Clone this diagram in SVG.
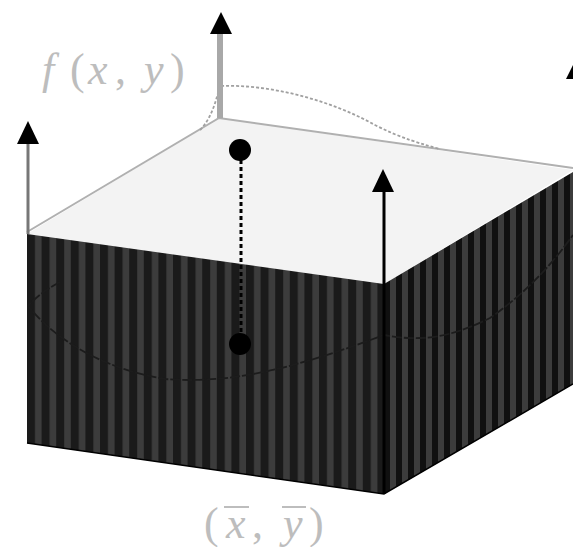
<svg xmlns="http://www.w3.org/2000/svg" width="573" height="547" viewBox="0 0 573 547">
<style>
.lbl{font-family:"Liberation Serif",serif;font-size:44px;fill:#bdbdbd}
.it{font-style:italic}
.curve{fill:none;stroke:#a0a0a0;stroke-width:1.8;stroke-dasharray:3 2}
.under{fill:none;stroke:#1c1c1c;stroke-width:1.8;stroke-dasharray:10 2}
.edge{fill:none;stroke:#b0b0b0;stroke-width:2}
</style>
<defs>
<pattern id="stripes" patternUnits="userSpaceOnUse" x="27" y="0" width="14.6" height="10">
<rect width="14.6" height="10" fill="#1a1a1a"/>
<rect x="8" width="6.6" height="10" fill="#3c3c3c"/>
</pattern>
<pattern id="stripesR" patternUnits="userSpaceOnUse" x="384" y="0" width="12" height="10">
<rect width="12" height="10" fill="#101010"/>
<rect x="6" width="6" height="10" fill="#3c3c3c"/>
</pattern>
</defs>
<g id="box">
<polygon points="27,234 219,118 573,170 384,284" fill="#f3f3f3"/>
<polygon points="27,234 384,284 384,494 27,443" fill="url(#stripes)"/>
<polygon points="384,284 573,172 573,384 384,494" fill="url(#stripesR)"/>
<polyline class="edge" points="27,232 219,118 573,168"/>
<polyline points="27,443 384,494 573,384" fill="none" stroke="#000" stroke-width="1.5"/>
</g>
<g id="connectors">
<path class="curve" d="M200,130 C212,118 216,100 220,86 C270,84 330,100 375,125 C400,138 425,145 440,149"/>
<path class="under" d="M60,282 C45,290 35,298 28,306 C60,345 110,370 165,379 C230,384 290,370 384,335 C420,342 450,338 490,318 C530,290 555,260 573,235"/>
<line x1="220" y1="118" x2="220" y2="30" stroke="#a8a8a8" stroke-width="6"/>
<polygon points="221,12 210,34 232,34" fill="#000"/>
<line x1="28" y1="234" x2="28" y2="142" stroke="#777" stroke-width="3"/>
<polygon points="28,121 17,144 39,144" fill="#000"/>
<line x1="384" y1="494" x2="384" y2="190" stroke="#000" stroke-width="3"/>
<polygon points="383,169 372,192 394,192" fill="#000"/>
<polygon points="573,65 566,79 573,79" fill="#000"/>
<line x1="241" y1="160" x2="241" y2="334" stroke="#000" stroke-width="3" stroke-dasharray="4 3"/>
</g>
<g id="point-top"><circle cx="240" cy="150" r="11" fill="#000"/></g>
<g id="point-bottom"><circle cx="240" cy="344" r="11" fill="#000"/></g>
<g id="label-f"><text class="lbl" y="84"><tspan class="it" x="42">f</tspan><tspan x="70">(</tspan><tspan class="it" x="88">x</tspan><tspan x="115">,</tspan><tspan class="it" x="144">y</tspan><tspan x="170">)</tspan></text></g>
<g id="label-xy"><text class="lbl" y="538"><tspan x="204">(</tspan><tspan class="it" x="226">x</tspan><tspan x="252">,</tspan><tspan class="it" x="283">y</tspan><tspan x="309">)</tspan></text>
<line x1="224" y1="507" x2="249" y2="507" stroke="#bdbdbd" stroke-width="2"/>
<line x1="282" y1="507" x2="306" y2="507" stroke="#bdbdbd" stroke-width="2"/></g>
</svg>
